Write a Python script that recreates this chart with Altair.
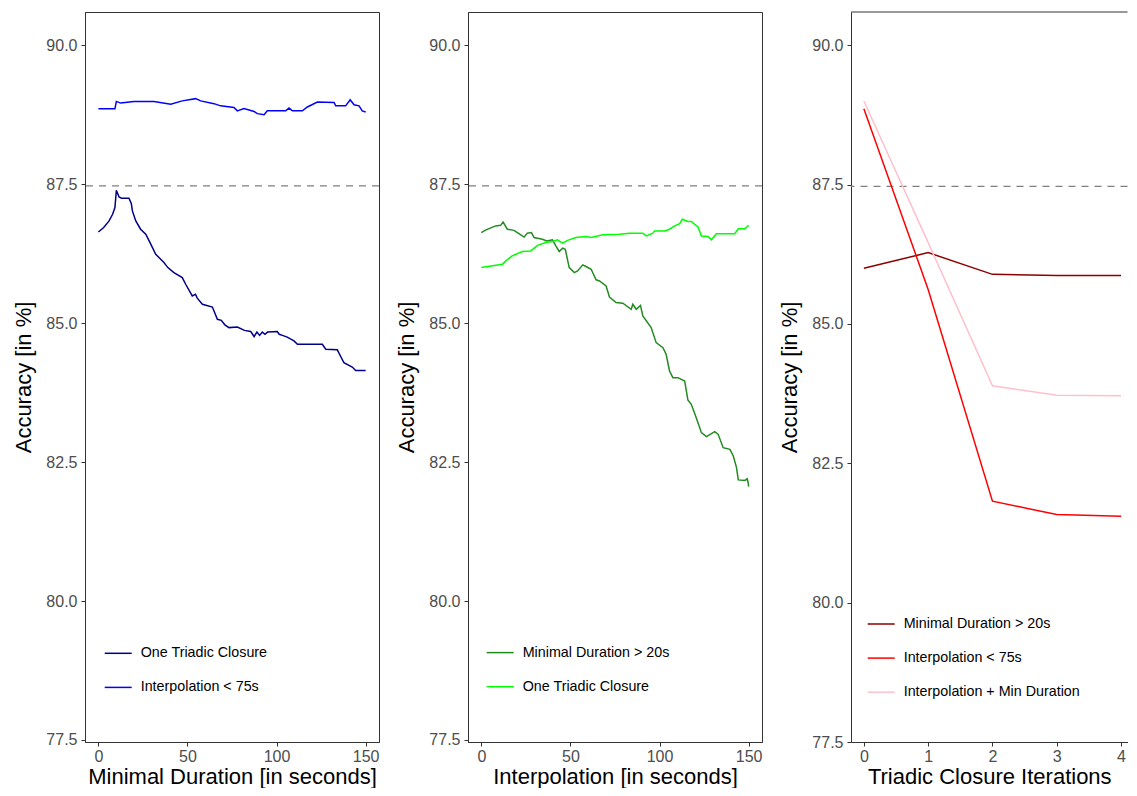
import altair as alt
import pandas as pd

# ---------------- Panel 1: Minimal Duration ----------------
p1_otc_x = [0, 3, 6, 8, 9.3, 10.1, 11.6, 13, 17.2, 18.5, 19.1, 21, 23.7, 26.6, 29, 32.2, 34, 36.8, 39,
            42.4, 47.1, 49, 52.7, 54.5, 55.5, 58.4, 64, 66.8, 69, 71, 73.3, 78, 82, 85.5, 87.4, 89, 90.5,
            92, 93.5, 95, 100.4, 101.5, 103.3, 106, 109.8, 111.7, 125.7, 127.6, 134.1, 136, 137.8, 142.5,
            144.4, 150]
p1_otc_y = [86.64, 86.72, 86.84, 86.96, 87.08, 87.39, 87.27, 87.25, 87.25, 87.15, 87.02, 86.84, 86.69,
            86.60, 86.45, 86.24, 86.18, 86.09, 86.00, 85.91, 85.82, 85.70, 85.49, 85.52, 85.45, 85.34,
            85.29, 85.07, 85.05, 84.97, 84.92, 84.93, 84.87, 84.85, 84.76, 84.84, 84.78, 84.84, 84.80,
            84.84, 84.85, 84.80, 84.78, 84.75, 84.68, 84.62, 84.62, 84.53, 84.52, 84.40, 84.29, 84.21,
            84.15, 84.15]
p1_int_x = [0, 9.3, 10.1, 12.5, 20, 31.2, 40.6, 47.1, 54.6, 57.4, 64.9, 68.6, 76.1, 78, 81.7, 87.4,
            89.2, 93, 94.8, 105.1, 107, 108.9, 114.5, 117.3, 122.9, 132.3, 133.2, 138.8, 141.3, 143.5,
            146.3, 148.1, 150]
p1_int_y = [88.86, 88.86, 88.99, 88.96, 88.99, 88.99, 88.94, 89.00, 89.04, 89.00, 88.95, 88.91, 88.88,
            88.82, 88.86, 88.81, 88.77, 88.75, 88.82, 88.82, 88.87, 88.82, 88.82, 88.89, 88.98, 88.97,
            88.91, 88.91, 89.02, 88.93, 88.91, 88.82, 88.80]
p1_names = ["One Triadic Closure", "Interpolation < 75s"]
p1_colors = ["#00008B", "#0000FF"]

# ---------------- Panel 2: Interpolation ----------------
p2_md_x = [0, 2, 8, 10.8, 12.2, 14.6, 18.3, 20.2, 24, 25.8, 28.1, 29.6, 34.3, 36.7, 39.9, 41.8, 43.7,
           45.6, 47.1, 49.3, 52.2, 54, 56.9, 58.7, 61.6, 64.4, 66.3, 70, 71.9, 75.6, 79.4, 84.1, 85,
           86.9, 89.3, 90.6, 95.3, 98.1, 101.9, 103.7, 105.6, 107.5, 110.3, 114.1, 115.9, 117.8, 120.6,
           123.5, 126.3, 131, 132.9, 135.7, 139.5, 141.4, 143.2, 144.2, 147.9, 149.2, 149.8, 150]
p2_md_y = [86.63, 86.67, 86.75, 86.76, 86.82, 86.69, 86.67, 86.63, 86.55, 86.62, 86.63, 86.54, 86.51,
           86.48, 86.50, 86.39, 86.29, 86.35, 86.33, 86.00, 85.91, 85.94, 86.05, 86.02, 85.97, 85.78,
           85.76, 85.67, 85.47, 85.37, 85.36, 85.25, 85.34, 85.25, 85.32, 85.13, 84.92, 84.65, 84.56,
           84.44, 84.14, 84.02, 84.02, 83.96, 83.62, 83.54, 83.30, 83.03, 82.96, 83.05, 83.00, 82.76,
           82.73, 82.61, 82.40, 82.18, 82.17, 82.20, 82.12, 82.06]
p2_otc_x = [0, 11.8, 13.7, 17.3, 23, 27.7, 31.5, 36.2, 39.9, 42.7, 45.6, 48.4, 53.1, 58.7, 61.6, 68.2,
            77.5, 83.2, 90.6, 92.5, 96.3, 97.2, 102.9, 105.6, 108.5, 111.3, 112.8, 115.9, 117.8, 121.6,
            123.5, 127.2, 129.1, 131.9, 142.2, 144.2, 147.9, 150]
p2_otc_y = [86.00, 86.06, 86.12, 86.21, 86.29, 86.30, 86.40, 86.45, 86.47, 86.50, 86.44, 86.49, 86.54,
            86.56, 86.54, 86.59, 86.60, 86.62, 86.62, 86.57, 86.62, 86.66, 86.66, 86.69, 86.75, 86.79,
            86.87, 86.83, 86.83, 86.73, 86.57, 86.56, 86.50, 86.61, 86.61, 86.70, 86.70, 86.76]
p2_names = ["Minimal Duration > 20s", "One Triadic Closure"]
p2_colors = ["#228B22", "#00FF00"]

# ---------------- Panel 3: Triadic Closure Iterations ----------------
p3_x = [0, 1, 2, 3, 4]
p3_md_y = [86.00, 86.28, 85.89, 85.87, 85.87]
p3_int_y = [88.86, 85.62, 81.82, 81.58, 81.55]
p3_both_y = [89.00, 86.46, 83.89, 83.72, 83.71]
p3_names = ["Minimal Duration > 20s", "Interpolation < 75s", "Interpolation + Min Duration"]
p3_colors = ["#8B0000", "#FF0000", "#FFC0CB"]

baseline = 87.47
y_ticks = [77.5, 80.0, 82.5, 85.0, 87.5, 90.0]


def long_df(series):
    rows = []
    for name, xs, ys in series:
        for i, (a, b) in enumerate(zip(xs, ys)):
            rows.append({"x": a, "y": b, "series": name, "order": i})
    return pd.DataFrame(rows)


def panel(df, names, colors, x_title, x_domain, x_ticks, y_domain, legend_x, legend_y, w, h,
          open_right=False):
    lines = alt.Chart(df).mark_line(strokeWidth=1.5, clip=True).encode(
        x=alt.X("x:Q", title=x_title, scale=alt.Scale(domain=x_domain, nice=False, zero=False),
                axis=alt.Axis(values=x_ticks, format="d", grid=False)),
        y=alt.Y("y:Q", title="Accuracy [in %]",
                scale=alt.Scale(domain=y_domain, nice=False, zero=False),
                axis=alt.Axis(values=y_ticks, format=".1f", grid=False)),
        color=alt.Color("series:N", scale=alt.Scale(domain=names, range=colors),
                        legend=alt.Legend(title=None, orient="none", legendX=legend_x,
                                          legendY=legend_y, symbolType="stroke",
                                          symbolSize=729, symbolStrokeWidth=1.5,
                                          labelFont="Liberation Sans", labelFontSize=14.3,
                                          labelColor="black", labelOffset=8, rowPadding=12.1,
                                          labelLimit=400, padding=0)),
        order="order:Q",
    )
    rule = alt.Chart(pd.DataFrame({"y": [baseline]})).mark_rule(
        color="#7F7F7F", strokeDash=[7, 6], strokeWidth=1.2
    ).encode(y="y:Q")
    layers = [rule, lines]
    if open_right:
        # the reference crops this panel on the right: keep only the top frame line
        top = alt.Chart(pd.DataFrame({"y": [y_domain[1]]})).mark_rule(
            color="#333333", strokeWidth=1
        ).encode(y="y:Q")
        layers.append(top)
        return alt.layer(*layers).properties(
            width=w, height=h, view=alt.ViewBackground(stroke="transparent"))
    return alt.layer(*layers).properties(width=w, height=h)


c1 = panel(long_df([(p1_names[0], p1_otc_x, p1_otc_y), (p1_names[1], p1_int_x, p1_int_y)]),
           p1_names, p1_colors, "Minimal Duration [in seconds]", [-7.5, 157.5], [0, 50, 100, 150],
           [77.464, 90.599], 18.7, 626.8, 294, 730)
c2 = panel(long_df([(p2_names[0], p2_md_x, p2_md_y), (p2_names[1], p2_otc_x, p2_otc_y)]),
           p2_names, p2_colors, "Interpolation [in seconds]", [-7.5, 157.5], [0, 50, 100, 150],
           [77.464, 90.599], 17.7, 626.1, 294, 730)
c3 = panel(long_df([(p3_names[0], p3_x, p3_md_y), (p3_names[1], p3_x, p3_int_y),
                    (p3_names[2], p3_x, p3_both_y)]),
           p3_names, p3_colors, "Triadic Closure Iterations", [-0.2, 4.1], [0, 1, 2, 3, 4],
           [77.5, 90.597], 15.7, 597.5, 276.5, 730, open_right=True)

chart = alt.hconcat(c1, c2, c3, spacing=14).resolve_scale(color="independent").properties(
    padding={"left": 4, "top": 3, "right": 0, "bottom": 0}
).configure_view(
    stroke="#333333", strokeWidth=1
).configure_axis(
    labelFont="Liberation Sans", labelFontSize=16, labelColor="#4D4D4D",
    titleFont="Liberation Sans", titleFontSize=22, titleFontWeight="normal", titleColor="black",
    tickColor="#333333", tickSize=4, domainColor="#333333",
).configure_axisY(titlePadding=10, labelPadding=4).configure_axisX(titlePadding=2, labelPadding=2)

chart.save("out.html", embed_options={"renderer": "svg", "actions": False})
